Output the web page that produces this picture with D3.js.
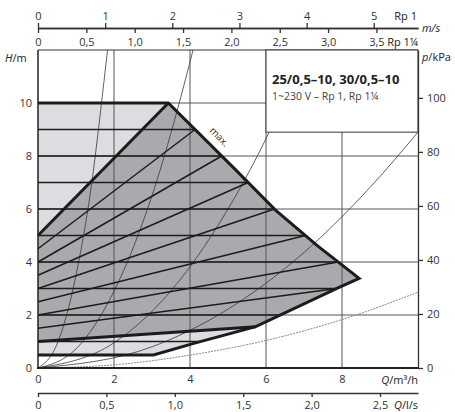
<!DOCTYPE html>
<html lang="de">
<head>
<meta charset="UTF-8">
<title>Pump curve 25/0,5-10, 30/0,5-10</title>
<script src="https://d3js.org/d3.v7.min.js"></script>
<style>
  body { margin: 0; background: #fff; }
  svg { display: block; font-family: "Open Sans", sans-serif; }
</style>
</head>
<body>
<div id="chart"></div>
<script>
// tick values
const qTicks = [0, 2, 4, 6, 8];
const hTicks = [0, 2, 4, 6, 8, 10];
const pTicks = [0, 20, 40, 60, 80, 100];
const lsTicks = [0, 0.5, 1.0, 1.5, 2.0, 2.5];
const rp1Ticks = [0, 1, 2, 3, 4, 5];
const rp114Ticks = [0, 0.5, 1.0, 1.5, 2.0, 2.5, 3.0, 3.5];
const pipeDiameters = [0.025, 0.030]; // m, Rp 1 / Rp 1¼

// pump field envelope (Q in m³/h, H in m)
const maxCurve = [[0, 10], [3.43, 10], [5.15, 7.55], [6.25, 5.96], [7.35, 4.62], [8.45, 3.38]];
const minCurve = [[8.45, 3.38], [7.88, 3.01], [5.73, 1.56], [4.1, 0.93], [3.04, 0.49], [0, 0.49]];
// Δp-v field limits
const pvTop = [[0, 5], [3.43, 10]];
const pvBottom = [[0, 1.0], [5.73, 1.56]];
// set heads: Δp-c horizontals and Δp-v diagonals (start at half head)
const pcHeads = [9, 8, 7, 6, 5, 4, 3, 2, 1];
const pvHeads = [9, 8, 7, 6, 5, 4, 3];

// system curves
const sysA = [[0, 0], [0.5, 0.9], [1, 3.5], [1.46, 7.47], [1.65, 9.74], [1.83, 12]];
const sysB = [[0, 0], [1, 0.72], [2, 2.9], [3, 6.5], [3.66, 9.7], [4.08, 12]];
const sysC = [[0, 0], [2, 0.95], [3.75, 3.35], [5, 6], [5.59, 7.5], [7.07, 12]];
const sysD = [[0, 0], [3, 0.8], [5.41, 2.6], [7, 4.36], [8.76, 6.85], [10, 8.9]];
const sysE = [[0, 0], [2, 0.12], [4.27, 0.55], [6, 1.04], [8.05, 1.85], [10, 2.86]];

const W = 455, H = 412;
const pLeft = 38, pRight = 418, pTop = 50, pBottom = 368;

const svg = d3.select("#chart").append("svg")
    .attr("width", W)
    .attr("height", H);

const x = d3.scaleLinear().domain([0, 10]).range([pLeft, pRight]);
const y = d3.scaleLinear().domain([0, 12]).range([pBottom, pTop]);
const yP = d3.scaleLinear().domain([0, 12 * 9.81]).range([pBottom, pTop]);
const xLs = d3.scaleLinear().domain([0, 10 / 3.6]).range([pLeft, pRight]);
const vMax = d => 10 / 3600 / (Math.PI * d * d / 4);
const xV1 = d3.scaleLinear().domain([0, vMax(pipeDiameters[0])]).range([pLeft, pRight]);
const xV2 = d3.scaleLinear().domain([0, vMax(pipeDiameters[1])]).range([pLeft, pRight]);

const comma = d => d === 0 ? "0" : d.toFixed(1).replace(".", ",");
const line = d3.line().x(d => x(d[0])).y(d => y(d[1]));

svg.append("clipPath").attr("id", "plot")
  .append("rect").attr("x", pLeft).attr("y", pTop)
  .attr("width", pRight - pLeft).attr("height", pBottom - pTop);

// boundary polyline and where a head level meets it
const boundary = maxCurve.slice(1).concat(minCurve.slice(1));
function qAt(h) {
  for (let i = 0; i < boundary.length - 1; i++) {
    const [q1, h1] = boundary[i], [q2, h2] = boundary[i + 1];
    if (h1 === h2) continue;
    if ((h - h1) * (h - h2) <= 0) return q1 + (h - h1) / (h2 - h1) * (q2 - q1);
  }
  return 0;
}

const g = svg.append("g");

// fills
g.append("path")
  .attr("d", line(maxCurve.concat(minCurve.slice(1))) + "Z")
  .attr("fill", "#dcdde0");
g.append("path")
  .attr("d", line([pvTop[0]].concat(maxCurve.slice(1), minCurve.slice(1, 3), [pvBottom[0]])) + "Z")
  .attr("fill", "#a9aaae");

// grid
const grid = g.append("g").attr("stroke", "#555").attr("stroke-width", 1);
grid.selectAll(".gx").data(qTicks.slice(1)).join("line")
  .attr("x1", d => x(d)).attr("x2", d => x(d))
  .attr("y1", pTop).attr("y2", pBottom);
grid.selectAll(".gy").data(hTicks.slice(1)).join("line")
  .attr("x1", pLeft).attr("x2", pRight)
  .attr("y1", d => y(d)).attr("y2", d => y(d));

// system curves
const sys = g.append("g").attr("clip-path", "url(#plot)").attr("fill", "none");
const curve = d3.line().x(d => x(d[0])).y(d => y(d[1])).curve(d3.curveMonotoneX);
sys.selectAll("path").data([sysA, sysB, sysC, sysD]).join("path")
  .attr("d", curve).attr("stroke", "#3a3a3a").attr("stroke-width", 0.8);
sys.append("path").attr("d", curve(sysE))
  .attr("stroke", "#8a8a8a").attr("stroke-width", 1).attr("stroke-dasharray", "2,1");

// pump curves
const pump = g.append("g").attr("fill", "none").attr("stroke", "#1c1c1c");
pump.selectAll(".pc").data(pcHeads).join("line")
  .attr("stroke-width", 1.5)
  .attr("x1", x(0)).attr("x2", d => x(qAt(d)))
  .attr("y1", d => y(d)).attr("y2", d => y(d));
pump.selectAll(".pv").data(pvHeads).join("line")
  .attr("stroke-width", 1.5)
  .attr("x1", x(0)).attr("x2", d => x(qAt(d)))
  .attr("y1", d => y(d / 2)).attr("y2", d => y(d));
pump.append("path").attr("d", line(maxCurve.concat(minCurve.slice(1))))
  .attr("stroke-width", 3).attr("stroke-linejoin", "miter");
pump.append("path").attr("d", line(pvTop)).attr("stroke-width", 3);
pump.append("path").attr("d", line(pvBottom)).attr("stroke-width", 3);

// "max." label along the max curve
const mq = 4.55;
svg.append("text")
  .attr("transform", `translate(${x(mq) + 6},${y(10 - (mq - 3.43) / 1.72 * 2.45) - 6}) rotate(45)`)
  .attr("text-anchor", "middle")
  .attr("font-size", 10).attr("fill", "#333")
  .text("max.");

// frame
svg.append("line").attr("x1", pLeft).attr("x2", pLeft).attr("y1", pTop).attr("y2", pBottom)
  .attr("stroke", "#222").attr("stroke-width", 1.5);
svg.append("line").attr("x1", pLeft).attr("x2", pRight).attr("y1", pTop).attr("y2", pTop)
  .attr("stroke", "#333").attr("stroke-width", 1);
svg.append("line").attr("x1", pLeft - 1).attr("x2", pRight).attr("y1", pBottom).attr("y2", pBottom)
  .attr("stroke", "#222").attr("stroke-width", 2);

// legend box
svg.append("rect")
  .attr("x", x(6)).attr("y", pTop)
  .attr("width", pRight - x(6)).attr("height", y(8.9) - pTop)
  .attr("fill", "#fff").attr("stroke", "#333").attr("stroke-width", 1);
svg.append("text").attr("x", 272).attr("y", 84)
  .attr("font-size", 13).attr("font-weight", "bold").attr("fill", "#222")
  .text("25/0,5–10, 30/0,5–10");
svg.append("text").attr("x", 272).attr("y", 100)
  .attr("font-size", 10.5).attr("fill", "#444")
  .text("1~230 V – Rp 1, Rp 1¼");

// axes
function styleAxis(sel) {
  sel.attr("font-family", null).attr("font-size", 11);
  sel.selectAll("text").attr("fill", "#333");
  sel.selectAll("line, path").attr("stroke", "#333").attr("stroke-width", 1.3);
}

svg.append("g").attr("transform", `translate(${pLeft},0)`)
  .call(d3.axisLeft(y).tickValues(hTicks).tickSize(0).tickPadding(6))
  .call(s => s.select(".domain").remove()).call(styleAxis);

svg.append("g").attr("transform", `translate(${pRight},0)`)
  .call(d3.axisRight(yP).tickValues(pTicks).tickSize(5).tickPadding(4).tickSizeOuter(0))
  .call(styleAxis);

svg.append("g").attr("transform", `translate(0,${pBottom})`)
  .call(d3.axisBottom(x).tickValues(qTicks).tickSize(0).tickPadding(7))
  .call(s => s.select(".domain").remove()).call(styleAxis);

svg.append("g").attr("transform", "translate(0,393)")
  .call(d3.axisBottom(xLs).tickValues(lsTicks).tickFormat(comma).tickSize(4).tickPadding(4).tickSizeOuter(0))
  .call(styleAxis);

svg.append("g").attr("transform", "translate(0,28)")
  .call(d3.axisTop(xV1).tickValues(rp1Ticks).tickFormat(d3.format("d")).tickSize(5).tickPadding(3).tickSizeOuter(0))
  .call(styleAxis);
svg.append("g").attr("transform", "translate(0,28)")
  .call(d3.axisBottom(xV2).tickValues(rp114Ticks).tickFormat(comma).tickSize(5).tickPadding(5).tickSizeOuter(0))
  .call(styleAxis);

// axis titles
const titles = svg.append("g").attr("font-size", 11).attr("fill", "#222");
function title(tx, ty, sym, rest, anchor) {
  const t = titles.append("text").attr("x", tx).attr("y", ty).attr("text-anchor", anchor || "start");
  t.append("tspan").attr("font-style", "italic").text(sym);
  t.append("tspan").text(rest);
}
title(5, 62, "H", "/m");
title(422, 61, "p", "/kPa");
title(418, 384, "Q", "/m³/h", "end");
title(418, 409, "Q", "/l/s", "end");
title(422, 32, "m/s", "");
titles.append("text").attr("x", 417).attr("y", 20).attr("text-anchor", "end").text("Rp 1");
titles.append("text").attr("x", 418).attr("y", 46).attr("text-anchor", "end").text("Rp 1¼");
</script>
</body>
</html>
